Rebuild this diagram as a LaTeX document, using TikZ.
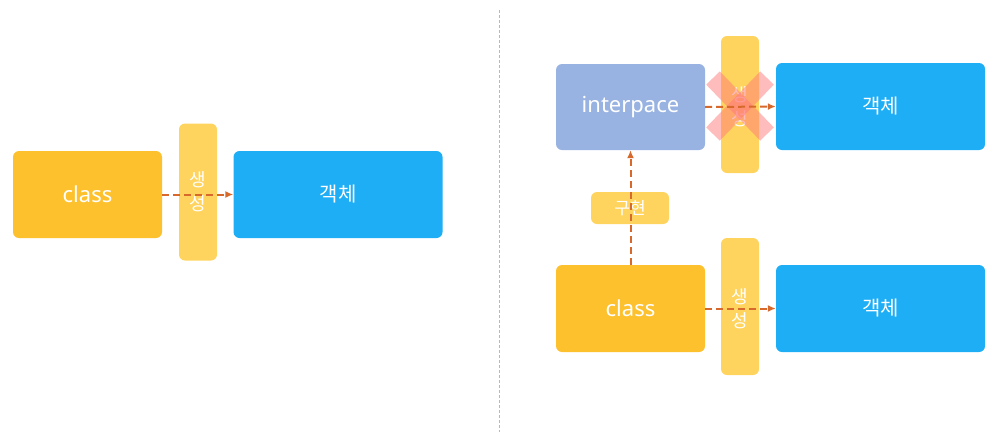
\documentclass[tikz,border=0pt]{standalone}
\usepackage{fontspec}
\setmainfont{Noto Sans}
\newfontfamily\kr{Noto Sans CJK KR}
\usetikzlibrary{arrows.meta}
\definecolor{clsy}{HTML}{FDC12E}
\definecolor{bary}{HTML}{FFD45E}
\definecolor{objb}{HTML}{1EAEF5}
\definecolor{intf}{HTML}{98B3E1}
\definecolor{arr}{HTML}{D7692C}
\definecolor{xpink}{HTML}{FF7A7A}
\definecolor{divc}{HTML}{A8BCCB}
\begin{document}
\begin{tikzpicture}[x=1pt,y=-1pt,
  box/.style={rounded corners=6pt, inner sep=0pt, text=white},
  clsbox/.style={box, fill=clsy, minimum width=149pt, minimum height=87pt, font=\fontsize{22}{26}\selectfont},
  intbox/.style={box, fill=intf, minimum width=149pt, minimum height=86pt, font=\fontsize{22}{26}\selectfont},
  objbox/.style={box, fill=objb, minimum width=209pt, minimum height=87pt, font=\kr\fontsize{20}{24}\selectfont},
  barbox/.style={box, fill=bary, minimum width=38pt, minimum height=137pt},
  bartext/.style={text=white, align=center, inner sep=0pt, font=\kr\fontsize{18}{24}\selectfont},
  tagbox/.style={box, fill=bary, minimum width=78pt, minimum height=32pt, font=\kr\fontsize{17}{20}\selectfont},
  darrow/.style={draw=arr, line width=2pt, dash pattern=on 7pt off 4pt, -{Latex[length=8pt,width=7pt]}},
  xmark/.style={draw=xpink, line width=19pt, opacity=0.5}
]
\useasboundingbox (0,0) rectangle (1004,440);
% divider
\coordinate (dtop) at (499,10);
\coordinate (dbot) at (499,432);
\draw[divc, line width=0.8pt, dash pattern=on 3pt off 2pt] (dtop) -- (dbot);

% left
\node[clsbox] (lcls) at (87.5,194.5) {class};
\node[barbox] (lbar) at (198,192) {};
\node[bartext] (lbart) at (lbar) {생\\성};
\node[objbox] (lobj) at (338,194.5) {객체};
\draw[darrow] (lcls.east) -- (lobj.west);

% right top
\node[intbox] (rint) at (630.5,107) {interpace};
\node[barbox] (rbar1) at (740,104.5) {};
\node[bartext] (rbar1t) at (740,107) {생\\성};
\node[objbox] (robj1) at (880.5,106.5) {객체};
\coordinate (xa) at (713,78);
\coordinate (xb) at (767,134);
\coordinate (xc) at (767,78);
\coordinate (xd) at (713,134);
\draw[xmark] (xa) -- (xb);
\draw[xmark] (xc) -- (xd);
\draw[darrow] (rint.east) -- (robj1.west);

% right bottom
\node[tagbox] (impl) at (630,208) {구현};
\node[clsbox] (rcls) at (630.5,308.5) {class};
\node[barbox] (rbar2) at (740,306.5) {};
\node[bartext] (rbar2t) at (740,309) {생\\성};
\node[objbox] (robj2) at (880.5,308.5) {객체};
\draw[darrow] (rcls.east) -- (robj2.west);
\draw[darrow] (rcls.north) -- (rint.south);
\end{tikzpicture}
\end{document}
